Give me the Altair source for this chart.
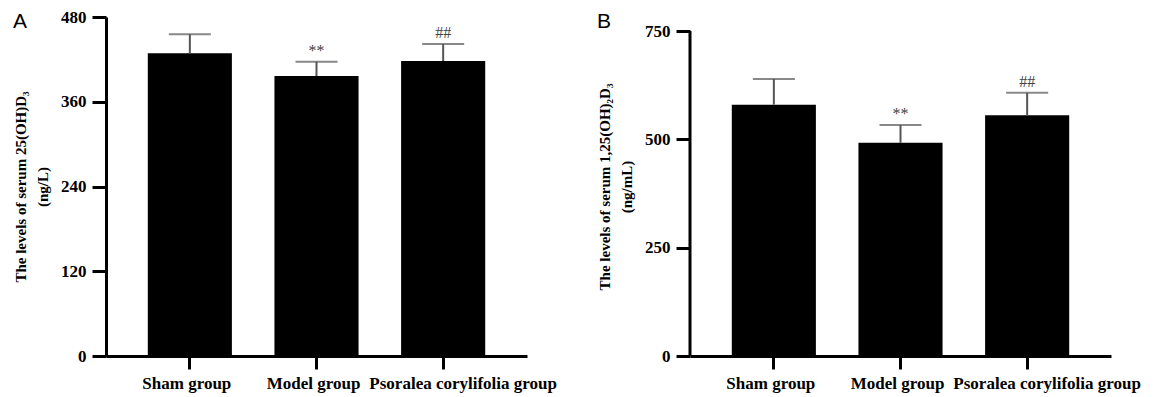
import altair as alt
import pandas as pd

groups = ["Sham group", "Model group", "Psoralea corylifolia group"]

a_mean = [428.6, 396.5, 417.7]
a_upper = [455.5, 416.7, 441.8]
a_marks = ["", "**", "##"]
a_ticks = [0, 120, 240, 360, 480]

b_mean = [580.0, 492.0, 555.5]
b_upper = [639.0, 533.0, 607.6]
b_marks = ["", "**", "##"]
b_ticks = [0, 250, 500, 750]

SERIF = "Liberation Serif"
W, H = 421, 339


def panel(mean, upper, marks, ticks, domain_max, title, letter, draw_axis_line):
    df = pd.DataFrame({"group": groups, "mean": mean, "upper": upper, "mark": marks})
    xenc = alt.X(
        "group:N",
        sort=groups,
        scale=alt.Scale(paddingInner=0.336, paddingOuter=0.33),
        axis=alt.Axis(
            title=None, labelAngle=0, labelFont=SERIF, labelFontWeight="bold",
            labelFontSize=17, labelColor="black", tickSize=13, tickWidth=3,
            tickColor="black", domainWidth=3, domainColor="black",
            labelPadding=6, labelFlush=False, labelOverlap=False, labelLimit=0,
            labelOffset=alt.ExprRef(
                "datum.value == 'Psoralea corylifolia group' ? 20 : -3"
            ),
        ),
    )
    yaxis = alt.Axis(
        values=ticks, title=title, grid=False, domain=not draw_axis_line,
        domainWidth=3, domainColor="black", tickSize=14, tickWidth=3,
        tickColor="black", labelFont=SERIF, labelFontWeight="bold",
        labelFontSize=17, labelColor="black", labelPadding=6,
        titleFont=SERIF, titleFontWeight="bold", titleFontSize=15,
        titleColor="black", titleLineHeight=22, titlePadding=10,
    )
    yscale = alt.Scale(domain=[0, domain_max], nice=False)
    base = alt.Chart(df)
    bars = base.mark_bar(color="black").encode(
        x=xenc, y=alt.Y("mean:Q", scale=yscale, axis=yaxis)
    )
    err = base.mark_rule(color="#555555", strokeWidth=2).encode(
        x=alt.X("group:N", sort=groups),
        y=alt.Y("mean:Q", scale=yscale, axis=yaxis),
        y2="upper:Q",
    )
    cap = base.mark_tick(color="#555555", thickness=2, size=42, orient="horizontal").encode(
        x=alt.X("group:N", sort=groups),
        y=alt.Y("upper:Q", scale=yscale, axis=yaxis),
    )
    txt = base.mark_text(
        dy=-11, fontSize=16, color="#444444", font=SERIF, baseline="middle"
    ).encode(
        x=alt.X("group:N", sort=groups),
        y=alt.Y("upper:Q", scale=yscale, axis=yaxis),
        text="mark:N",
    )
    lab = alt.Chart(pd.DataFrame({"t": [letter]})).mark_text(
        align="left", baseline="alphabetic", fontSize=21, font="Liberation Sans", color="black"
    ).encode(x=alt.value(-93), y=alt.value(11), text="t:N")
    layers = [bars, err, cap, txt, lab]
    if draw_axis_line:
        ax = alt.Chart(pd.DataFrame({"lo": [0], "hi": [ticks[-1]]})).mark_rule(
            color="black", strokeWidth=3
        ).encode(
            x=alt.value(0),
            y=alt.Y("lo:Q", scale=yscale, axis=yaxis),
            y2="hi:Q",
        )
        layers.append(ax)
    return alt.layer(*layers).properties(width=W, height=H)


pa = panel(a_mean, a_upper, a_marks, a_ticks, 480,
           ["The levels of serum 25(OH)D\u2083", "(ng/L)"], "A", False)
pb = panel(b_mean, b_upper, b_marks, b_ticks, 750 * 339 / 325,
           ["The levels of serum 1,25(OH)\u2082D\u2083", "(ng/mL)"], "B", True)

chart = alt.hconcat(pa, pb, spacing=163, bounds="flush").configure_view(
    stroke=None
).properties(padding={"left": 5, "top": 0, "right": 5, "bottom": 5})

chart.save("out.html", embed_options={"renderer": "svg", "actions": False})
